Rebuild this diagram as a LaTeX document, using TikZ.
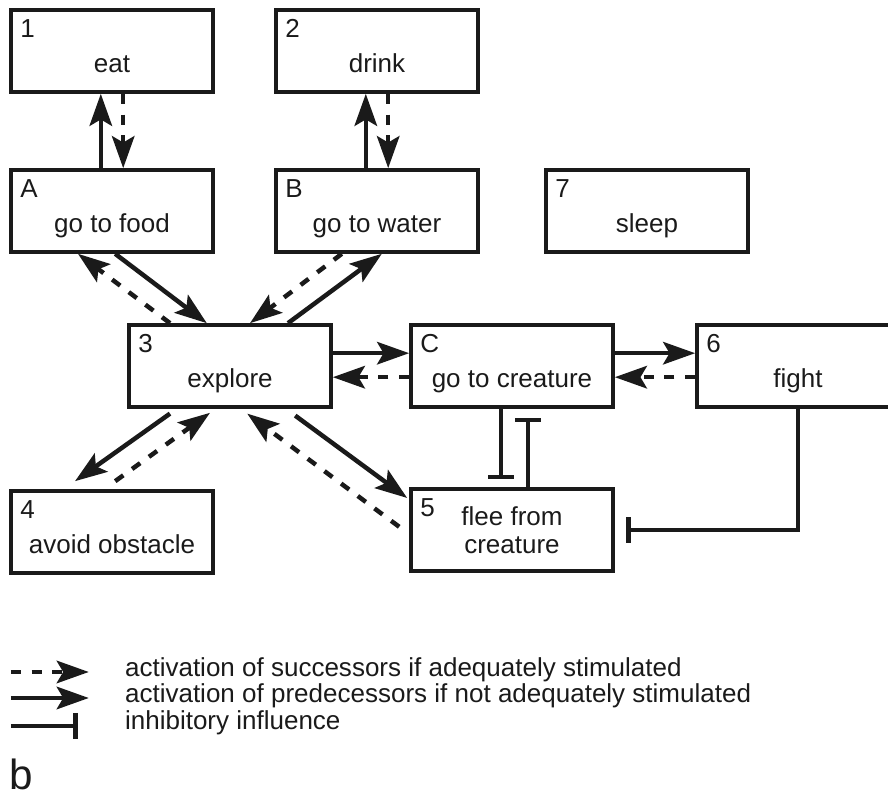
\documentclass[tikz,border=0pt]{standalone}
\usepackage{fontspec}
\setmainfont{Liberation Sans}
\setsansfont{Liberation Sans}
\usetikzlibrary{arrows.meta,calc,positioning}
\definecolor{ink}{HTML}{1A1A1A}
\tikzset{
  font=\sffamily\fontsize{18.5}{20}\selectfont,
  behav/.style={rectangle,draw=ink,line width=2.6pt,minimum width=5.05cm,minimum height=2.05cm,
    inner sep=0pt,text height=1.15cm,text depth=0.05cm,align=center,text=ink},
  num/.style={anchor=north west,inner sep=0.27cm,text=ink,text height={},text depth={}},
  succ/.style={-{Stealth[length=8mm,width=5.6mm,inset=1.6mm]},draw=ink,line width=3.2pt,
    dash pattern=on 0.25cm off 0.27cm},
  pred/.style={-{Stealth[length=8mm,width=5.6mm,inset=1.6mm]},draw=ink,line width=3.2pt},
  inhibit/.style={-{Bar[width=6.5mm]},draw=ink,line width=3.2pt},
  keytext/.style={anchor=base west,inner sep=0pt,text=ink},
}
\begin{document}
\begin{tikzpicture}[x=1cm,y=1cm]
\useasboundingbox (0,0) rectangle (22.2,19.9);

\node[behav,label={[num]north west:1}] (eat) at (2.8,18.625) {eat};
\node[behav,label={[num]north west:2}] (drink) at (9.425,18.625) {drink};

\node[behav,label={[num]north west:A}] (goFood) at (2.8,14.625) {go to food};
\node[behav,label={[num]north west:B}] (goWater) at (9.425,14.625) {go to water};
\node[behav,label={[num]north west:7}] (sleep) at (16.175,14.625) {sleep};

\node[behav,label={[num]north west:3}] (explore) at (5.75,10.75) {explore};
\node[behav,label={[num]north west:C}] (goCreature) at (12.8,10.75) {go to creature};
\node[behav,label={[num]north west:6}] (fight) at (19.95,10.75) {fight};

\node[behav,label={[num]north west:4}] (avoid) at (2.8,6.6) {avoid obstacle};
\node[behav,text height={},text depth={},label={[num]north west:5}] (flee) at (12.8,6.65) {flee from\\creature};

% consummatory links
\draw[pred] ([xshift=-0.28cm]goFood.north) -- ([xshift=-0.28cm]eat.south);
\draw[succ] ([xshift=0.28cm]eat.south) -- ([xshift=0.28cm]goFood.north);
\draw[pred] ([xshift=-0.28cm]goWater.north) -- ([xshift=-0.28cm]drink.south);
\draw[succ] ([xshift=0.28cm]drink.south) -- ([xshift=0.28cm]goWater.north);

% around explore
\draw[succ] ([xshift=-1.5cm]explore.north) -- ([xshift=-0.85cm]goFood.south);
\draw[pred] ([xshift=0.08cm]goFood.south) -- ([xshift=-0.58cm]explore.north);
\draw[succ] ([xshift=-0.88cm]goWater.south) -- ([xshift=0.5cm]explore.north);
\draw[pred] ([xshift=1.45cm]explore.north) -- ([xshift=0.12cm]goWater.south);

\draw[pred] ([yshift=0.32cm]explore.east) -- ([yshift=0.32cm]goCreature.west);
\draw[succ] ([yshift=-0.28cm]goCreature.west) -- ([yshift=-0.28cm]explore.east);
\draw[pred] ([yshift=0.32cm]goCreature.east) -- ([yshift=0.32cm]fight.west);
\draw[succ] ([yshift=-0.28cm]fight.west) -- ([yshift=-0.28cm]goCreature.east);

\draw[pred] ([xshift=-1.5cm,yshift=-0.12cm]explore.south) -- ([xshift=-0.925cm,yshift=0.2cm]avoid.north);
\draw[succ] ([xshift=0.08cm,yshift=0.2cm]avoid.north) -- ([xshift=-0.5cm,yshift=-0.1cm]explore.south);
\draw[succ] ([xshift=-0.25cm,yshift=0.08cm]flee.west) -- ([xshift=0.43cm,yshift=-0.12cm]explore.south);
\draw[pred] ([xshift=1.63cm,yshift=-0.17cm]explore.south) -- ([xshift=-0.05cm,yshift=0.8cm]flee.west);

% inhibition
\draw[inhibit] ([xshift=-0.28cm]goCreature.south) -- ([xshift=-0.28cm,yshift=0.2cm]flee.north);
\draw[inhibit] ([xshift=0.4cm]flee.north) -- ([xshift=0.4cm,yshift=-0.22cm]goCreature.south);
\draw[inhibit] (fight.south) |- ([xshift=0.28cm]flee.east);

% key
\node[keytext] (keySucc) at (3.12,2.975) {activation of successors if adequately stimulated};
\node[keytext] (keyPred) at (3.12,2.325) {activation of predecessors if not adequately stimulated};
\node[keytext] (keyInh) at (3.12,1.65) {inhibitory influence};
\draw[succ] ([xshift=-2.85cm,yshift=0.125cm]keySucc.base west) -- ([xshift=-0.9cm,yshift=0.125cm]keySucc.base west);
\draw[pred] ([xshift=-2.85cm,yshift=0.125cm]keyPred.base west) -- ([xshift=-0.9cm,yshift=0.125cm]keyPred.base west);
\draw[inhibit] ([xshift=-2.85cm,yshift=0.1cm]keyInh.base west) -- ([xshift=-1.18cm,yshift=0.1cm]keyInh.base west);

\node[anchor=base west,inner sep=0pt,text=ink,font=\sffamily\fontsize{30}{32}\selectfont] (panelTag) at (0.22,0.16) {b};

\end{tikzpicture}
\end{document}
